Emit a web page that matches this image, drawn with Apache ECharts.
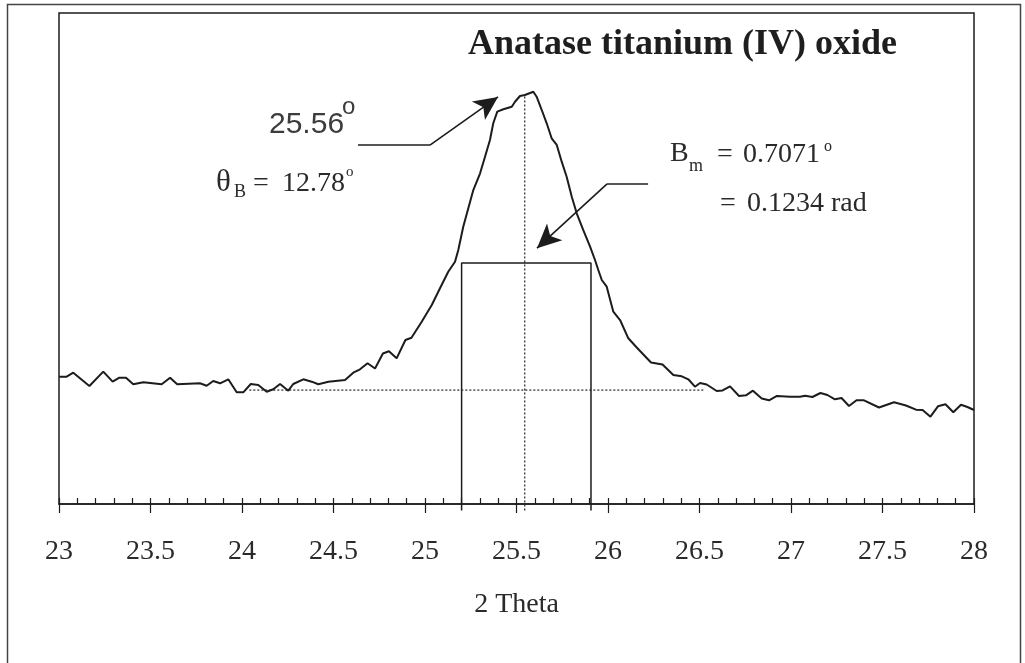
<!DOCTYPE html>
<html>
<head>
<meta charset="utf-8">
<script src="https://cdn.jsdelivr.net/npm/echarts@6/dist/echarts.min.js"></script>
<style>
  html, body { margin: 0; padding: 0; background: #fff; }
  #chart { width: 1025px; height: 663px; }
</style>
</head>
<body>
<div id="chart"></div>
<script>
// ---- data ----
const twoTheta = [
  23.00, 23.042, 23.078, 23.166, 23.242, 23.293, 23.330, 23.366, 23.406, 23.461,
  23.561, 23.607, 23.646, 23.770, 23.807, 23.843, 23.880, 23.925, 23.971, 24.007,
  24.048, 24.089, 24.135, 24.171, 24.208, 24.253, 24.280, 24.335, 24.381, 24.417,
  24.472, 24.563, 24.608, 24.645, 24.686, 24.727, 24.770, 24.803, 24.845, 24.893,
  24.926, 24.982, 25.037, 25.082, 25.127, 25.164, 25.182, 25.209, 25.264, 25.301,
  25.328, 25.355, 25.373, 25.395, 25.428, 25.474, 25.492, 25.519, 25.546, 25.592,
  25.610, 25.638, 25.665, 25.692, 25.720, 25.747, 25.774, 25.802, 25.829, 25.865,
  25.902, 25.929, 25.947, 25.966, 25.993, 26.029, 26.066, 26.111, 26.157, 26.235,
  26.298, 26.357, 26.403, 26.439, 26.475, 26.503, 26.539, 26.594, 26.626, 26.667,
  26.716, 26.754, 26.792, 26.840, 26.880, 26.923, 26.995, 27.049, 27.077, 27.117,
  27.161, 27.199, 27.240, 27.276, 27.317, 27.358, 27.399, 27.481, 27.563, 27.628,
  27.683, 27.719, 27.762, 27.803, 27.844, 27.887, 27.929, 27.964, 28.000
];
const intensity = [
  25.93, 25.93, 26.74, 24.03, 26.95, 24.91, 25.72, 25.72, 24.38, 24.79,
  24.38, 25.72, 24.38, 24.58, 24.09, 25.05, 24.58, 25.40, 22.75, 22.75,
  24.44, 24.24, 22.87, 23.36, 24.44, 23.08, 24.44, 25.40, 24.91, 24.38,
  24.91, 25.25, 26.74, 27.43, 28.66, 27.60, 30.65, 31.10, 29.67, 33.40,
  33.85, 37.13, 40.53, 43.93, 47.31, 49.35, 51.73, 56.48, 63.95, 67.35,
  70.73, 74.13, 77.54, 79.90, 80.39, 80.92, 81.93, 83.10, 83.30, 83.97,
  82.95, 80.24, 77.54, 74.48, 73.12, 69.72, 66.66, 62.59, 59.21, 55.80,
  52.40, 49.69, 47.66, 45.62, 44.26, 39.16, 37.47, 33.75, 31.87, 28.82,
  28.41, 26.27, 26.01, 25.40, 23.89, 24.64, 24.34, 23.01, 23.12, 23.97,
  22.00, 22.14, 23.08, 21.49, 21.12, 22.00, 21.85, 21.85, 22.06, 21.79,
  22.61, 22.20, 21.32, 21.59, 19.96, 21.12, 21.12, 19.65, 20.71, 20.06,
  19.21, 19.14, 17.78, 19.90, 20.33, 18.68, 20.22, 19.76, 19.14
];
const xTickMin = 23, xTickMax = 28, xTickStep = 0.5;

// construction lines (2θ, intensity)
const peakPos = 25.545;          // vertical dotted line at the peak
const peakTop = 83.0;
const baseLevel = 23.2;          // dotted background line
const baseFrom = 24.04, baseTo = 26.53;
const halfLevel = 49.1;          // width box
const boxLeft = 25.2, boxRight = 25.907;
const belowAxis = -1.3;

// annotation arrows (2θ, intensity)
const arrow1 = [[24.634, 73.1], [25.027, 73.1], [25.399, 82.9]];
const arrow2 = [[26.219, 65.2], [25.995, 65.2], [25.612, 52.1]];

const chart = echarts.init(document.getElementById('chart'), null, { renderer: 'canvas' });

const serif = '"Liberation Serif", "Times New Roman", serif';
const sans = '"Liberation Sans", Arial, sans-serif';
const ink = '#1c1c1c';

function arrowMarkLine(pts) {
  return {
    silent: true,
    animation: false,
    lineStyle: { color: ink, width: 1.6, type: 'solid' },
    itemStyle: { color: ink },
    label: { show: false },
    data: [
      [{ coord: pts[0], symbol: 'none' }, { coord: pts[1], symbol: 'none' }],
      [{ coord: pts[1], symbol: 'none' }, { coord: pts[2], symbol: 'arrow', symbolSize: [17, 24] }]
    ]
  };
}

const option = {
  animation: false,
  backgroundColor: '#fff',
  grid: {
    left: 59, right: 51, top: 13, bottom: 159,
    show: true, borderColor: ink, borderWidth: 1.5, backgroundColor: 'transparent'
  },
  xAxis: [
    {
      type: 'value', min: xTickMin, max: xTickMax, interval: xTickStep,
      position: 'bottom',
      axisLine: { show: true, lineStyle: { color: ink, width: 1.5 } },
      axisTick: { show: true, inside: true, length: 6, lineStyle: { color: ink, width: 1.2 } },
      minorTick: { show: true, splitNumber: 5, length: 6, lineStyle: { color: ink, width: 1.2 } },
      axisLabel: {
        show: true, fontFamily: serif, fontSize: 28, color: '#2a2a2a', margin: 34, lineHeight: 28
      },
      splitLine: { show: false },
      name: '2 Theta', nameLocation: 'middle', nameGap: 87,
      nameTextStyle: { fontFamily: serif, fontSize: 28, color: '#2a2a2a', lineHeight: 28 }
    },
    {
      type: 'value', min: xTickMin, max: xTickMax, interval: xTickStep,
      position: 'bottom', offset: 0,
      axisLine: { show: false },
      axisTick: { show: true, inside: false, length: 9, lineStyle: { color: ink, width: 1.2 } },
      axisLabel: { show: false },
      splitLine: { show: false }
    }
  ],
  yAxis: {
    type: 'value', min: 0, max: 100,
    axisLine: { show: false }, axisTick: { show: false },
    axisLabel: { show: false }, splitLine: { show: false }
  },
  series: [
    {
      name: 'Anatase', type: 'line', xAxisIndex: 0,
      data: twoTheta.map((t, i) => [t, intensity[i]]),
      symbol: 'none', smooth: false,
      lineStyle: { color: ink, width: 2 },
      z: 5
    },
    {
      name: 'box', type: 'line', xAxisIndex: 0, clip: false,
      data: [[boxLeft, belowAxis], [boxLeft, halfLevel], [boxRight, halfLevel], [boxRight, belowAxis]],
      symbol: 'none', lineStyle: { color: ink, width: 1.5 }, z: 4
    },
    {
      name: 'peak', type: 'line', xAxisIndex: 0, clip: false,
      data: [[peakPos, peakTop], [peakPos, belowAxis]],
      symbol: 'none', lineStyle: { color: '#333', width: 1.3, type: [2, 2] }, z: 3
    },
    {
      name: 'base', type: 'line', xAxisIndex: 0, clip: false,
      data: [[baseFrom, baseLevel], [baseTo, baseLevel]],
      symbol: 'none', lineStyle: { color: '#333', width: 1.3, type: [2, 2] }, z: 3,
      markLine: arrowMarkLine(arrow1)
    },
    {
      name: 'arrow2', type: 'line', xAxisIndex: 0, data: [],
      symbol: 'none',
      markLine: arrowMarkLine(arrow2)
    }
  ],
  graphic: [
    // outer frame
    { type: 'polyline', shape: { points: [[7.5, 663], [7.5, 4.5], [1020.5, 4.5], [1020.5, 663]] },
      style: { stroke: '#444', lineWidth: 1.5, fill: null }, silent: true },
    // title
    { type: 'text', left: 468, top: 27,
      style: { text: 'Anatase titanium (IV) oxide', font: 'bold 36px ' + serif, fill: '#1e1e1e' } },
    // 25.56°
    { type: 'text', x: 269, y: 125,
      style: { text: '25.56', font: '30px ' + sans, fill: '#3c3c3c', textVerticalAlign: 'middle' } },
    { type: 'text', x: 342, y: 107,
      style: { text: 'o', font: '24px ' + sans, fill: '#3c3c3c', textVerticalAlign: 'middle' } },
    // θB = 12.78°
    { type: 'text', x: 216, y: 183,
      style: { text: 'θ', font: '31px ' + serif, fill: '#2a2a2a', textVerticalAlign: 'middle' } },
    { type: 'text', x: 234, y: 192,
      style: { text: 'B', font: '18px ' + serif, fill: '#2a2a2a', textVerticalAlign: 'middle' } },
    { type: 'text', x: 253, y: 184,
      style: { text: '=', font: '28px ' + serif, fill: '#2a2a2a', textVerticalAlign: 'middle' } },
    { type: 'text', x: 282, y: 184,
      style: { text: '12.78', font: '28px ' + serif, fill: '#2a2a2a', textVerticalAlign: 'middle' } },
    { type: 'text', x: 346, y: 172,
      style: { text: 'o', font: '15px ' + serif, fill: '#2a2a2a', textVerticalAlign: 'middle' } },
    // Bm = 0.7071°
    { type: 'text', x: 670, y: 154,
      style: { text: 'B', font: '28px ' + serif, fill: '#2a2a2a', textVerticalAlign: 'middle' } },
    { type: 'text', x: 689, y: 166,
      style: { text: 'm', font: '18px ' + serif, fill: '#2a2a2a', textVerticalAlign: 'middle' } },
    { type: 'text', x: 717, y: 155,
      style: { text: '=', font: '28px ' + serif, fill: '#2a2a2a', textVerticalAlign: 'middle' } },
    { type: 'text', x: 743, y: 155,
      style: { text: '0.7071', font: '28px ' + serif, fill: '#2a2a2a', textVerticalAlign: 'middle' } },
    { type: 'text', x: 824, y: 147,
      style: { text: 'o', font: '16px ' + serif, fill: '#2a2a2a', textVerticalAlign: 'middle' } },
    // = 0.1234 rad
    { type: 'text', x: 720, y: 204,
      style: { text: '=', font: '28px ' + serif, fill: '#2a2a2a', textVerticalAlign: 'middle' } },
    { type: 'text', x: 747, y: 204,
      style: { text: '0.1234 rad', font: '28px ' + serif, fill: '#2a2a2a', textVerticalAlign: 'middle' } }
  ]
};

chart.setOption(option);
</script>
</body>
</html>
